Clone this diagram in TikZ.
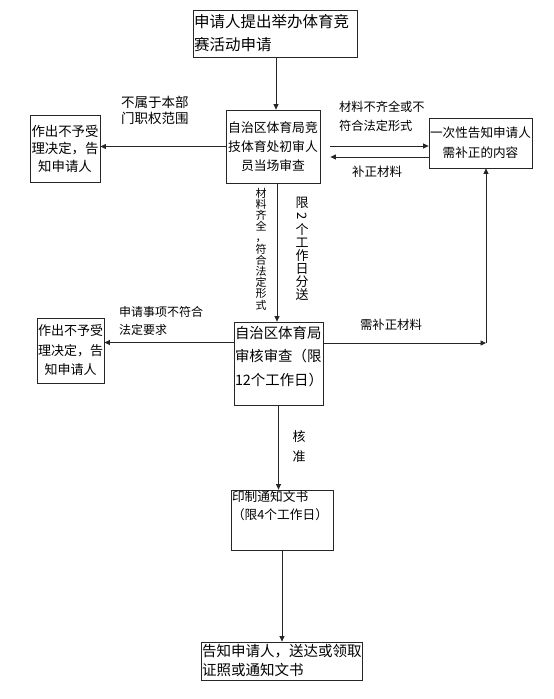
\documentclass[tikz,border=0pt]{standalone}
\usepackage{fontspec}
\setmainfont{Noto Sans CJK SC}
\usetikzlibrary{arrows.meta,calc,positioning}
\newcommand{\sizeto}[2]{\fontsize{#1pt}{#2pt}\selectfont}
\tikzset{
 chart/.style={line join=miter,text=black},
 stage/.style={draw=black!85,line width=.8pt,inner sep=1pt},
 link/.style={draw=black!85,line width=.8pt,-{Triangle[length=5.5pt,width=5pt]}},
 cond/.style={anchor=north west,inner sep=0pt,align=left},
 tag/.style={inner sep=0pt,align=center}
}

\begin{document}
\begin{tikzpicture}[chart,x=1pt,y=-1pt]
 \useasboundingbox (0,0) rectangle (554,699);
 \coordinate (turn) at (486,343);
 % boxes
 \node[stage,text width=162pt,minimum height=47pt,align=left,font=\sizeto{15.5}{23}] (apply) at (275,33.5) {申请人提出举办体育竞\\赛活动申请};
 \node[stage,text width=92pt,minimum height=73pt,align=center,font=\sizeto{12.8}{19}] (check) at (273,146.5) {自治区体育局竞\\技体育处初审人\\员当场审查};
 \node[stage,text width=68pt,minimum height=67pt,align=center,font=\sizeto{13.4}{17.5}] (rejectA) at (65,148.5) {作出不予受\\理决定，告\\知申请人};
 \node[stage,text width=101pt,minimum height=50pt,align=center,font=\sizeto{12.6}{20}] (notify) at (480.5,143) {一次性告知申请人\\需补正的内容};
 \node[stage,font=\sizeto{14.4}{23.5}] (review) at (278.5,363.5) {\parbox[c][81pt][t]{87pt}{\vspace*{3pt}自治区体育局\\审核审查（限\\12个工作日）}};
 \node[stage,text width=65pt,minimum height=65pt,align=center,font=\sizeto{13}{19.5}] (rejectB) at (70.5,350.5) {作出不予受\\理决定，告\\知申请人};
 \node[stage,font=\sizeto{12.7}{18}] (print) at (282,520) {\parbox[c][58pt][t]{100pt}{印制通知文书\\（限4个工作日）}};
 \node[stage,text width=159pt,minimum height=38pt,align=left,font=\sizeto{14.5}{19}] (deliver) at (281.5,661) {告知申请人，送达或领取\\证照或通知文书};
 % connectors
 \draw[link] (apply.south -| 276,0) -- (check.north -| 276,0);
 \draw[link] (check.west) -- (check.west -| rejectA.east);
 \draw[link,shorten <=10pt] ([yshift=0.5pt]check.east) -- ([yshift=0.5pt]check.east -| notify.west);
 \draw[link,shorten >=10pt] ([yshift=-10.5pt]check.east -| notify.west) -- ([yshift=-10.5pt]check.east);
 \draw[link] (check.south -| 277,0) -- (review.north -| 277,0);
 \draw[link] ([yshift=8pt]rejectB.east -| review.west) -- ([yshift=8pt]rejectB.east);
 \draw[link] (turn -| review.east) -- (turn);
 \draw[link] (turn) -- (turn |- notify.south);
 \draw[link] (review.south) -- (review.south |- print.north);
 \draw[link] (print.south) -- (print.south |- deliver.north);
 % labels
 \node[cond,font=\sizeto{13.5}{16}] (outside) at (121,96) {不属于本部\\门职权范围};
 \node[cond,font=\sizeto{12.2}{19}] (lacking) at (339,101) {材料不齐全或不\\符合法定形式};
 \node[tag,font=\sizeto{12.5}{15}] (supply) at (377,172) {补正材料};
 \node[cond,font=\sizeto{12}{18}] (unlawful) at (119,306) {申请事项不符合\\法定要求};
 \node[tag,font=\sizeto{12.4}{15}] (needmore) at (391,325) {需补正材料};
 \node[tag,font=\sizeto{11}{11.2}] (complete) at (261,249) {材\\料\\齐\\全\\，\\符\\合\\法\\定\\形\\式};
 \node[tag,font=\sizeto{13}{13.1}] (forward) at (302,249) {限\\\rotatebox[origin=c]{-90}{2}\\个\\工\\作\\日\\分\\送};
 \node[tag,font=\sizeto{13}{20}] (approve) at (299,447) {核\\准};
\end{tikzpicture}
\end{document}
